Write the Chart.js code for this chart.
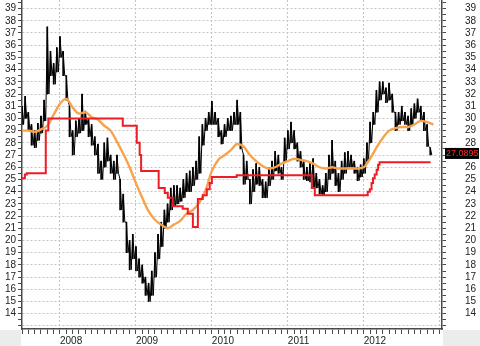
<!DOCTYPE html>
<html>
<head>
<meta charset="utf-8">
<script src="https://cdn.jsdelivr.net/npm/chart.js@4"></script>
<style>
  html, body { margin: 0; padding: 0; background: #fff; }
  #chart { display: block; }
</style>
</head>
<body>
<canvas id="chart" width="480" height="346"></canvas>
<script>
// semi-monthly price ranges (1st and 16th of each month), from July 2007
const priceStart = 2007.5;
const priceLow = [
  29.5, 30, 29, 27.8, 27.6, 28.2, 28.8, 29.8, 32, 33.5,
  32.8, 33.8, 35, 33.5, 31.5, 28.5, 27, 28.5, 28.8, 29,
  29.5, 28.5, 27.8, 27, 25.5, 25, 26, 26.5, 25.5, 25,
  25.5, 22.5, 21.5, 19, 17.6, 18.5, 17.5, 17, 16.5, 15.5,
  15, 15.5, 17, 18.5, 19.5, 21, 21.5, 22.5, 22.8, 23,
  23.2, 23.5, 24, 24, 24.5, 25, 25.5, 27.8, 29, 29.5,
  29.5, 29.5, 28.5, 27.9, 28.5, 29, 29, 29.5, 29.5, 27.5,
  24.6, 25, 23, 24, 24.6, 24.5, 23.5, 23.5, 24.5, 25,
  25.7, 25.5, 25, 26.5, 27.5, 28, 27.5, 26.5, 26, 25,
  24.9, 24.8, 24.3, 24.3, 23.8, 23.7, 24, 25, 25.5, 24.5,
  24, 25, 25.5, 26, 26, 25.5, 24.9, 25.2, 25.5, 26.5,
  28, 29.5, 30.5, 31.5, 32, 31.3, 31.5, 30.5, 29, 29.5,
  29.8, 29.5, 29, 29.5, 30, 30.5, 29.8, 29, 27.7, 27
];
const priceHigh = [
  31, 31.8, 30.5, 29.5, 29, 29.6, 30.2, 31.5, 37.5, 35.5,
  34.5, 35.8, 36.7, 35.5, 33.5, 31, 29, 29.8, 30, 32,
  30.6, 30, 29.5, 28.5, 27.9, 26.5, 28, 28.4, 27, 26.5,
  27, 25, 23.8, 21.5, 20, 20.5, 19.5, 18.5, 18, 17,
  16.5, 17.5, 19, 20.5, 21.5, 22.5, 23, 24.3, 24.5, 24.5,
  24.3, 25, 25.5, 25.7, 26, 26.5, 28.5, 29.5, 30, 30.5,
  31.4, 30.5, 30, 29, 29.5, 30, 30.2, 30.5, 31.5, 30.5,
  27, 26.5, 25, 25.8, 26.3, 26, 25, 24.8, 26, 26.5,
  27.3, 27, 26, 28.4, 29, 29.7, 29, 28, 27.3, 26.5,
  26, 26.3, 26.7, 25.5, 25, 24.5, 25.5, 27, 28.2, 26.5,
  25.5, 26.5, 27.2, 27.3, 27, 26.5, 26, 26.2, 26.7, 28,
  29.7, 30.5, 32.3, 33, 33, 32.5, 32.9, 32, 30.5, 30.5,
  31, 30.5, 30.2, 30.8, 31.2, 31.6, 31, 30.5, 29.5, 27.6
];
const lastPrice = 27.0895;

// monthly moving average, from July 2007
const maValues = [
  29.0, 29.0, 28.9, 29.1, 29.4, 30.3, 31.2, 31.6, 30.9, 30.4,
  30.5, 30.1, 29.9, 29.4, 29.0, 28.1, 27.1, 26.0, 24.7, 23.5,
  22.4, 21.7, 21.3, 21.0, 21.3, 21.6, 22.2, 22.5, 23.1, 24.1,
  25.7, 26.6, 27.0, 27.4, 27.9, 27.7, 27.0, 26.5, 26.1, 25.9,
  26.0, 26.3, 26.5, 26.7, 26.6, 26.5, 26.3, 26.0, 25.9, 26.0,
  25.9, 25.9, 25.9, 25.9, 26.0, 26.7, 27.6, 28.4, 29.0, 29.2,
  29.3, 29.3, 29.5, 29.8, 29.7, 29.5
];

// red stop line: date of each change and the level from there on
const stopDates = [
  '2007-07-01', '2007-07-15', '2007-07-24', '2007-10-24', '2007-11-06',
  '2008-10-29', '2009-01-05', '2009-01-19', '2009-01-26', '2009-04-19',
  '2009-05-18', '2009-06-02', '2009-06-26', '2009-08-13', '2009-09-07',
  '2009-10-01', '2009-10-25', '2009-11-18', '2009-12-07', '2009-12-21',
  '2010-01-01', '2010-04-29', '2011-04-25', '2011-05-09', '2012-01-20',
  '2012-01-30', '2012-02-08', '2012-02-15', '2012-02-23', '2012-03-02',
  '2012-03-09', '2012-03-16', '2012-11-18'
];
const stopValues = [
  25.1, 25.4, 25.5, 29.0, 30.0,
  29.4, 28.0, 27.0, 25.7, 24.3,
  23.9, 23.5, 22.8, 22.6, 22.2,
  21.1, 23.4, 23.7, 24.2, 24.7,
  25.2, 25.35, 24.3, 23.7, 24.0,
  24.2, 24.7, 25.1, 25.4, 25.8,
  26.2, 26.4, 26.4
];

const yearLabels = ['2008', '2009', '2010', '2011', '2012'];

const xMin = 2007.5;
const xMax = 2013.03;
const yMin = 12.75;
const yMax = 39.7;

const toYear = (s) => {
  const [y, m, d] = s.split('-').map(Number);
  return y + (m - 1) / 12 + (d - 1) / 365;
};

const isWhole = (v) => Math.abs(v - Math.round(v)) < 1e-6;

const priceData = priceLow.map((lo, i) => ({ x: priceStart + i / 24, y: [lo, priceHigh[i]] }));
// thin trace through each period's high, then its low
const traceData = [];
priceLow.forEach((lo, i) => {
  traceData.push({ x: priceStart + i / 24, y: priceHigh[i] });
  traceData.push({ x: priceStart + i / 24 + 1 / 48, y: lo });
});
const maData = maValues.map((v, i) => ({ x: priceStart + i / 12, y: v }));
const stopData = stopDates.map((d, i) => ({ x: toYear(d), y: stopValues[i] }));

const font = { family: 'Liberation Sans, Arial, sans-serif', size: 10 };
const axisColor = '#4a4a4a';
const gridColor = '#c4c4c4';

const yTicks = () => {
  const t = [];
  for (let v = 13; v <= 39.5; v += 0.5) t.push({ value: v });
  return t;
};

const noPad = (s) => {
  s.paddingTop = 0;
  s.paddingBottom = 0;
  s.paddingLeft = 0;
  s.paddingRight = 0;
};

const corners = {
  id: 'corners',
  beforeDraw(chart) {
    const { ctx, chartArea, width, height } = chart;
    ctx.save();
    ctx.fillStyle = '#fff';
    ctx.fillRect(0, 0, width, height);
    ctx.fillStyle = '#ececec';
    ctx.fillRect(0, chartArea.bottom + 1, chartArea.left - 1, height);
    ctx.fillRect(chartArea.right + 1, chartArea.bottom + 1, width, height);
    ctx.restore();
  }
};

const priceTag = {
  id: 'priceTag',
  afterDraw(chart) {
    const { ctx, chartArea } = chart;
    const y = chart.scales.y.getPixelForValue(lastPrice);
    ctx.save();
    ctx.fillStyle = '#000';
    ctx.fillRect(chartArea.right + 3, y - 6, 34, 11);
    ctx.fillStyle = '#ff2a2a';
    ctx.font = '9px "Liberation Sans", Arial, sans-serif';
    ctx.textBaseline = 'middle';
    ctx.textAlign = 'left';
    ctx.fillText(lastPrice.toFixed(4), chartArea.right + 4, y);
    ctx.restore();
  }
};

const config = {
  type: 'bar',
  data: {
    datasets: [
      {
        type: 'line',
        data: stopData,
        borderColor: '#ee1d25',
        borderWidth: 2,
        stepped: true,
        pointRadius: 0,
        order: 1
      },
      {
        type: 'line',
        data: maData,
        borderColor: '#f7a24c',
        borderWidth: 2.4,
        cubicInterpolationMode: 'monotone',
        pointRadius: 0,
        order: 2
      },
      {
        type: 'line',
        data: traceData,
        borderColor: '#000',
        borderWidth: 1,
        pointRadius: 0,
        order: 3
      },
      {
        type: 'bar',
        data: priceData,
        backgroundColor: '#000',
        barThickness: 1,
        borderWidth: 0,
        order: 4
      }
    ]
  },
  options: {
    responsive: false,
    animation: false,
    layout: { padding: 0 },
    plugins: { legend: { display: false }, tooltip: { enabled: false } },
    scales: {
      x: {
        type: 'linear',
        min: xMin,
        max: xMax,
        offset: false,
        afterBuildTicks: (s) => {
          const t = [];
          for (let i = 0; i <= 66; i++) t.push({ value: xMin + i / 12 });
          s.ticks = t;
        },
        afterFit: (s) => { s.height = 17; noPad(s); },
        ticks: {
          autoSkip: false,
          maxRotation: 0,
          minRotation: 0,
          align: 'start',
          padding: 1,
          color: '#222',
          font: font,
          callback: (v) => {
            const label = String(Math.round(v));
            return isWhole(v) && yearLabels.includes(label) ? label : '';
          }
        },
        grid: {
          offset: false,
          color: (c) => (c.tick && isWhole(c.tick.value) ? gridColor : 'rgba(0,0,0,0)'),
          lineWidth: 1,
          tickColor: axisColor,
          tickLength: 5,
          tickWidth: 1
        },
        border: { color: axisColor, width: 1.5, dash: [2, 2] }
      },
      y: {
        type: 'linear',
        position: 'left',
        min: yMin,
        max: yMax,
        afterBuildTicks: (s) => { s.ticks = yTicks(); },
        afterFit: (s) => { s.width = 22; noPad(s); },
        ticks: {
          autoSkip: false,
          padding: 2,
          color: '#222',
          font: font,
          callback: (v) => (isWhole(v) && v >= 14 ? String(v) : '')
        },
        grid: {
          color: (c) => (c.tick && isWhole(c.tick.value) ? gridColor : 'rgba(0,0,0,0)'),
          tickColor: axisColor,
          tickLength: 4
        },
        border: { color: axisColor, width: 1.5, dash: [2, 2] }
      },
      y2: {
        type: 'linear',
        position: 'right',
        min: yMin,
        max: yMax,
        afterBuildTicks: (s) => { s.ticks = yTicks(); },
        afterFit: (s) => { s.width = 38; noPad(s); },
        ticks: {
          autoSkip: false,
          padding: 19,
          color: '#222',
          font: font,
          callback: (v) => (isWhole(v) && v >= 14 ? String(v) : '')
        },
        grid: {
          drawOnChartArea: false,
          tickColor: axisColor,
          tickLength: 4
        },
        border: { color: axisColor, width: 1.5 }
      }
    }
  },
  plugins: [corners, priceTag]
};

new Chart(document.getElementById('chart'), config);
</script>
</body>
</html>
